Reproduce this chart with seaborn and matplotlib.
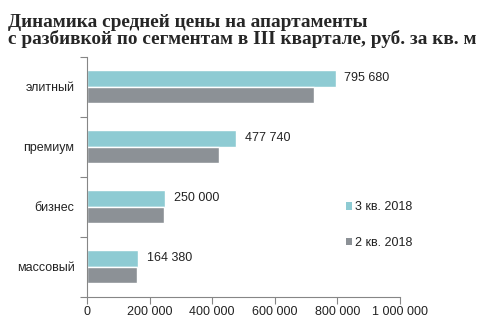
import matplotlib
matplotlib.use("Agg")
import matplotlib.pyplot as plt
import seaborn as sns
import pandas as pd
from matplotlib.patches import Patch

categories = ["элитный", "премиум", "бизнес", "массовый"]
series_names = ["3 кв. 2018", "2 кв. 2018"]
q3_values = [795680, 477740, 250000, 164380]
q2_values = [725000, 423000, 246000, 160000]
q3_labels = ["795 680", "477 740", "250 000", "164 380"]
xticks = [0, 200000, 400000, 600000, 800000, 1000000]
xtick_labels = ["0", "200 000", "400 000", "600 000", "800 000", "1 000 000"]
title_lines = ["Динамика средней цены на апартаменты",
               "с разбивкой по сегментам в III квартале, руб. за кв. м"]

colors = {"3 кв. 2018": "#8ecbd3", "2 кв. 2018": "#8c9196"}

df = pd.DataFrame({
    "segment": categories * 2,
    "series": [series_names[0]] * 4 + [series_names[1]] * 4,
    "value": q3_values + q2_values,
})

sns.set_style("white")
plt.rcParams["font.family"] = ["Liberation Sans", "DejaVu Sans"]

fig = plt.figure(figsize=(4.83, 3.25), dpi=100)
ax = fig.add_axes([0.180, 0.0872, 0.648, 0.7385])

sns.barplot(data=df, y="segment", x="value", hue="series", order=categories,
            hue_order=series_names, palette=colors, orient="h", width=0.556,
            ax=ax, saturation=1, legend=False)

# value labels for Q3
cont = ax.containers[0]
for rect, lab in zip(cont, q3_labels):
    y = rect.get_y() + rect.get_height() / 2
    ax.annotate(lab, (rect.get_width(), y), xytext=(6, 0), textcoords="offset points",
                va="center", ha="left", fontsize=9, color="#222222")

ax.set_xlim(0, 1000000)
ax.set_ylim(3.5, -0.5)
ax.set_xticks(xticks)
ax.set_xticklabels(xtick_labels, fontsize=9, color="#222222")
ax.set_yticks(range(len(categories)))
ax.set_yticklabels(categories, fontsize=9, color="#222222")
ax.set_yticks([-0.5, 0.5, 1.5, 2.5, 3.5], minor=True)
ax.tick_params(axis="y", which="major", length=0, pad=9)
ax.tick_params(axis="y", which="minor", length=5, color="#868686", width=0.8, direction="out", left=True)
ax.tick_params(axis="x", length=5, color="#868686", width=0.8, direction="out", bottom=True, pad=2)
ax.set_xlabel("")
ax.set_ylabel("")
for s in ["top", "right"]:
    ax.spines[s].set_visible(False)
for s in ["left", "bottom"]:
    ax.spines[s].set_color("#868686")
    ax.spines[s].set_linewidth(0.8)

handles = [Patch(facecolor=colors[n], edgecolor="none") for n in series_names]
ax.legend(handles, series_names, loc="upper left", bbox_to_anchor=(0.693, 0.415),
          bbox_transform=fig.transFigure, frameon=False, fontsize=9,
          handlelength=0.5, handleheight=0.5, handletextpad=0.25, labelspacing=1.9,
          labelcolor="#222222")

fig.text(0.017, 1 - 27 / 325, title_lines[0], fontsize=13.9, fontweight="bold",
         family=["Liberation Serif"], va="baseline", ha="left")
fig.text(0.017, 1 - 43.5 / 325, title_lines[1], fontsize=13.9, fontweight="bold",
         family=["Liberation Serif"], va="baseline", ha="left")

fig.savefig("out.png", dpi=100)
